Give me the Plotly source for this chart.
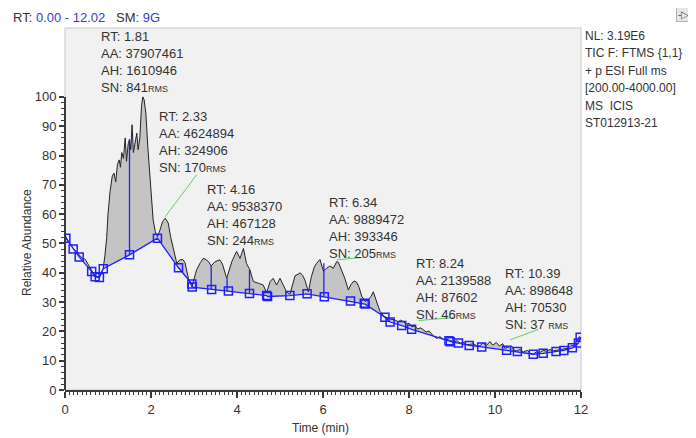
import plotly.graph_objects as go

# ---- chromatogram (TIC) ----
time = [0.00, 0.05, 0.18, 0.33, 0.40, 0.47, 0.55, 0.62, 0.70, 0.80, 0.89, 0.93, 0.97,
        1.00, 1.05, 1.10, 1.14, 1.18, 1.22, 1.26, 1.29, 1.32, 1.36, 1.40, 1.43, 1.47,
        1.50, 1.53, 1.56, 1.59, 1.63, 1.67, 1.70, 1.74, 1.78, 1.81, 1.84, 1.88, 1.93,
        1.98, 2.05, 2.10, 2.15, 2.21, 2.27, 2.33, 2.40, 2.46, 2.52, 2.60, 2.67, 2.74,
        2.79, 2.87, 2.95, 3.06, 3.15, 3.22, 3.29, 3.35, 3.40, 3.49, 3.60, 3.66, 3.76,
        3.82, 3.88, 3.99, 4.07, 4.15, 4.22, 4.30, 4.38, 4.50, 4.61, 4.69, 4.77, 4.84,
        4.92, 5.00, 5.08, 5.15, 5.23, 5.30, 5.35, 5.42, 5.47, 5.53, 5.58, 5.66, 5.73,
        5.80, 5.85, 5.93, 6.01, 6.08, 6.16, 6.24, 6.32, 6.36, 6.42, 6.51, 6.59, 6.65,
        6.72, 6.78, 6.84, 6.90, 6.98, 7.05, 7.12, 7.17, 7.25, 7.33, 7.40, 7.44, 7.56,
        7.67, 7.75, 7.80, 7.87, 7.95, 8.00, 8.06, 8.14, 8.20, 8.27, 8.33, 8.40, 8.47,
        8.55, 8.64, 8.72, 8.80, 8.88, 8.95, 9.05, 9.12, 9.19, 9.28, 9.35, 9.42, 9.50,
        9.58, 9.65, 9.72, 9.80, 9.88, 9.95, 10.03, 10.10, 10.18, 10.23, 10.30, 10.39,
        10.45, 10.50, 10.58, 10.66, 10.75, 10.82, 10.89, 10.96, 11.04, 11.12, 11.20,
        11.28, 11.36, 11.43, 11.52, 11.60, 11.68, 11.76, 11.82, 11.90, 11.96, 12.00]
intensity = [52.9, 51.5, 48.5, 46.0, 45.0, 44.6, 42.5, 40.6, 38.8, 38.6, 41.6, 46.1, 52.0,
             60.0, 68.0, 73.0, 74.0, 71.0, 77.0, 78.5, 76.0, 81.0, 79.0, 86.0, 78.0, 84.0,
             85.5, 82.0, 90.5, 81.0, 84.0, 87.6, 82.0, 86.0, 97.0, 100.0, 99.0, 94.5, 82.0,
             70.5, 58.0, 54.0, 52.3, 54.6, 57.5, 58.6, 57.0, 52.0, 48.0, 43.2, 44.4, 44.5,
             43.5, 38.0, 35.2, 41.0, 43.5, 44.9, 44.4, 43.5, 42.3, 43.8, 44.4, 43.0, 38.1,
             41.0, 43.8, 47.3, 44.9, 48.3, 43.2, 41.0, 37.0, 36.4, 35.8, 33.2, 37.0, 38.1,
             35.8, 38.1, 35.8, 33.5, 32.6, 36.0, 39.0, 39.5, 40.0, 39.0, 37.5, 33.5, 38.7,
             42.0, 43.2, 44.5, 40.5, 41.5, 42.3, 41.5, 43.8, 43.5, 41.5, 38.0, 34.1, 36.0,
             37.2, 36.8, 35.0, 32.0, 30.2, 30.7, 32.0, 33.5, 30.0, 26.7, 25.5, 25.0, 24.2,
             23.9, 23.2, 23.8, 23.3, 22.5, 22.8, 21.6, 21.8, 20.8, 21.2, 20.5, 19.8, 20.1,
             18.7, 17.6, 18.2, 17.2, 17.3, 16.9, 16.5, 16.8, 16.0, 16.2, 15.5, 15.6, 15.8,
             15.0, 15.1, 16.0, 15.2, 16.5, 15.3, 16.2, 15.0, 15.8, 14.2, 14.6, 15.0,
             13.5, 13.4, 13.8, 13.0, 13.5, 12.5, 12.2, 13.0, 12.8, 13.5, 13.2,
             13.8, 13.4, 13.6, 13.9, 14.0, 14.2, 15.0, 15.2, 16.5, 18.2, 17.8]

# ---- ICIS baseline points ----
base_t = [0.02, 0.19, 0.33, 0.62, 0.70, 0.80, 0.89, 1.50, 2.15, 2.64, 2.95, 2.96, 3.41,
          3.80, 4.29, 4.69, 4.71, 5.23, 5.63, 6.03, 6.64, 6.96, 6.98, 7.44, 7.56, 7.83,
          8.06, 8.93, 8.96, 9.15, 9.40, 9.69, 10.27, 10.52, 10.89, 11.12, 11.42, 11.60,
          11.80, 11.94, 11.98]
base_y = [51.8, 48.1, 45.4, 40.4, 38.6, 38.4, 41.4, 46.1, 51.8, 41.7, 36.2, 35.1, 34.3,
          33.8, 32.9, 32.2, 31.9, 32.2, 32.8, 31.8, 30.4, 29.6, 29.3, 24.8, 23.2, 22.0,
          20.7, 16.8, 16.5, 16.0, 15.2, 14.7, 13.6, 13.1, 12.2, 12.5, 13.1, 13.5,
          14.4, 16.0, 18.0]

# ---- peak marker lines ----
vline_t = [1.50, 3.40, 3.77, 4.29, 6.02]
vline_lo = [46.1, 34.3, 33.8, 33.0, 31.8]
vline_hi = [85.5, 42.5, 38.1, 41.0, 43.2]

# ---- peak labels ----
peak_rt = ["1.81", "2.33", "4.16", "6.34", "8.24", "10.39"]
peak_aa = ["37907461", "4624894", "9538370", "9889472", "2139588", "898648"]
peak_ah = ["1610946", "324906", "467128", "393346", "87602", "70530"]
peak_sn = ["841", "170", "244", "205", "46", "37 "]

info_lines = ["NL: 3.19E6", "TIC F: FTMS {1,1}", "+ p ESI Full ms",
              "[200.00-4000.00]", "MS  ICIS", "ST012913-21"]

FONT = "Liberation Sans, Arial, sans-serif"
TXT = "#333333"
BLUE = "#1f1fff"

# page body has an 8px margin: compensate so the plot lands where the reference has it
W, H = 688, 430
L, R, T, B = 57, 115, 20, 48
PW, PH = W - L - R, H - T - B


def px(sx):  # screen x -> paper x
    return (sx - 8 - L) / PW


def py(sy):  # screen y -> paper y
    return (H - B - (sy - 8)) / PH


fig = go.Figure()
fig.add_trace(go.Scatter(x=base_t, y=base_y, mode="lines",
                         line=dict(width=0, color="rgba(0,0,0,0)"),
                         hoverinfo="skip", showlegend=False))
fig.add_trace(go.Scatter(x=time, y=intensity, mode="lines", fill="tonexty",
                         fillcolor="#c4c4c4", line=dict(color="#222222", width=1),
                         showlegend=False))
vx, vy = [], []
for t, lo, hi in zip(vline_t, vline_lo, vline_hi):
    vx += [t, t, None]
    vy += [lo, hi, None]
fig.add_trace(go.Scatter(x=vx, y=vy, mode="lines", line=dict(color=BLUE, width=1.3),
                         showlegend=False))
fig.add_trace(go.Scatter(x=base_t, y=base_y, mode="lines+markers",
                         line=dict(color=BLUE, width=1.3),
                         marker=dict(symbol="square-open", size=8, color=BLUE,
                                     line=dict(width=1.5, color=BLUE)),
                         showlegend=False))

leaders = [((3.06, 73.4), (2.33, 59.1)),
           ((6.32, 44.4), (6.98, 45.3)),
           ((8.22, 23.7), (9.03, 24.7)),
           ((10.35, 17.1), (11.01, 20.7))]
shapes = []
for (x0, y0), (x1, y1) in leaders:
    shapes.append(dict(type="line", xref="x", yref="y", x0=x0, y0=y0, x1=x1, y1=y1,
                       line=dict(color="#5fcf5f", width=1)))
shapes.append(dict(type="rect", xref="paper", yref="paper", x0=0, y0=0, x1=1, y1=1,
                   line=dict(color="#c8c8c8", width=1), layer="below"))
shapes.append(dict(type="line", xref="paper", yref="y", x0=0, x1=0, y0=0, y1=100,
                   line=dict(color="#3a3a3a", width=2)))

annotations = []
pos = [(px(99), py(27)), (px(157), py(107)), (px(205), py(180)),
       (px(327), py(193)), (px(414), py(254)), (px(503), py(264))]
for (ax, ay), rt, aa, ah, sn in zip(pos, peak_rt, peak_aa, peak_ah, peak_sn):
    txt = (f"RT: {rt}<br>AA: {aa}<br>AH: {ah}<br>SN: {sn}"
           f"<span style='font-size:9px'>RMS</span>")
    annotations.append(dict(x=ax, y=ay, xref="paper", yref="paper", text=txt,
                            showarrow=False, xanchor="left", yanchor="top", align="left",
                            font=dict(family=FONT, size=13, color=TXT)))

for i, line in enumerate(info_lines):
    annotations.append(dict(x=px(583), y=py(36 + 17.4 * i), xref="paper", yref="paper",
                            text=line, showarrow=False, xanchor="left", yanchor="middle",
                            align="left", font=dict(family=FONT, size=12, color=TXT)))
# small toolbar button at the top right corner
annotations.append(dict(x=px(676), y=py(15), xref="paper", yref="paper", text="-▷",
                        showarrow=False, xanchor="left", yanchor="middle",
                        bgcolor="#e6e6e6", bordercolor="#b0b0b0", borderwidth=1,
                        font=dict(family=FONT, size=10, color="#555555")))
annotations.append(dict(x=px(11), y=py(17), xref="paper", yref="paper",
                        text="RT: <span style='color:#3c3cc8'>0.00 - 12.02</span>"
                             "   SM: <span style='color:#3c3cc8'>9G</span>",
                        showarrow=False, xanchor="left", yanchor="middle",
                        font=dict(family=FONT, size=13, color=TXT)))
annotations.append(dict(x=px(320), y=py(428), xref="paper", yref="paper", text="Time (min)",
                        showarrow=False, xanchor="center", yanchor="middle",
                        font=dict(family=FONT, size=12, color=TXT)))
annotations.append(dict(x=px(27), y=py(243), xref="paper", yref="paper",
                        text="Relative Abundance",
                        textangle=-90, showarrow=False, xanchor="center", yanchor="middle",
                        font=dict(family=FONT, size=12, color=TXT)))

fig.update_layout(
    width=W, height=H,
    margin=dict(l=L, r=R, t=T, b=B),
    paper_bgcolor="white", plot_bgcolor="#f1f1f1",
    shapes=shapes, annotations=annotations,
    xaxis=dict(range=[0, 12], tickvals=[0, 2, 4, 6, 8, 10, 12], ticks="outside",
               ticklen=6, tickwidth=1.5, tickcolor="#3a3a3a",
               minor=dict(dtick=0.1, ticks="outside", ticklen=3, tickcolor="#3a3a3a", tickwidth=1),
               showline=True, linecolor="#3a3a3a", linewidth=2,
               showgrid=False, zeroline=False,
               tickfont=dict(family=FONT, size=13, color=TXT)),
    yaxis=dict(range=[0, 123.5], tickvals=list(range(0, 101, 10)), ticks="outside",
               ticklen=5, tickwidth=1.5, tickcolor="#3a3a3a",
               minor=dict(tickvals=list(range(0, 101, 2)), ticks="outside", ticklen=3,
                          tickcolor="#3a3a3a", tickwidth=1),
               showline=False, showgrid=False, zeroline=False,
               tickfont=dict(family=FONT, size=13, color=TXT)),
)

fig.write_html("out.html")
